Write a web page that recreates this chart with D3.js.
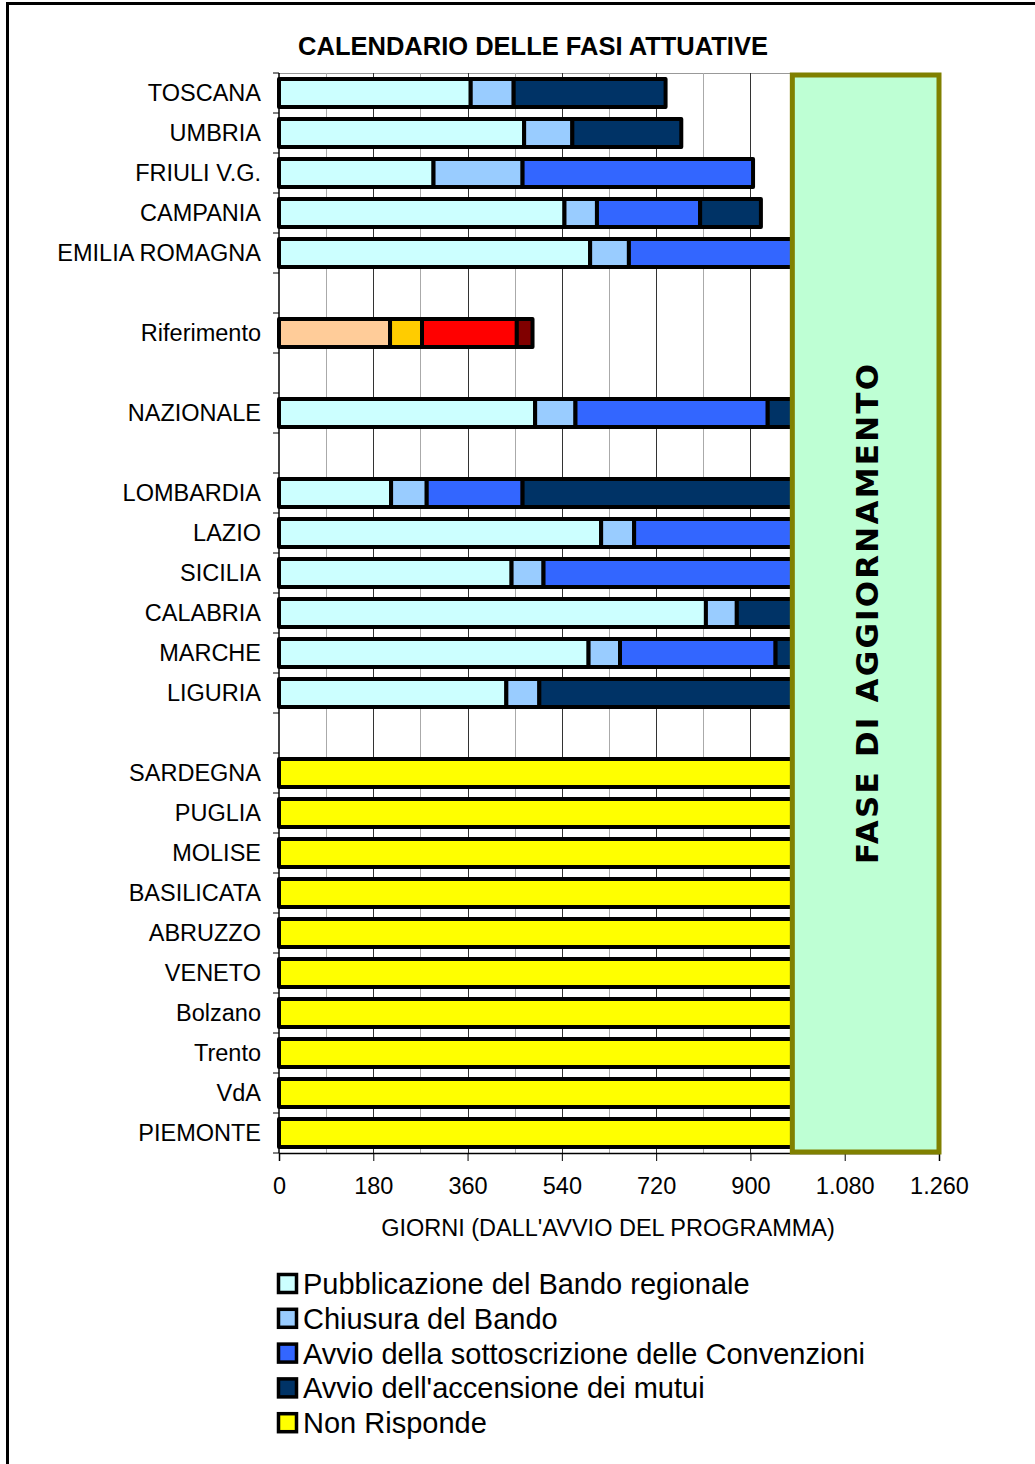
<!DOCTYPE html>
<html>
<head>
<meta charset="utf-8">
<script src="https://cdn.jsdelivr.net/npm/d3@7"></script>
<style>
  body { margin: 0; background: #fff; }
  svg { display: block; font-family: "Liberation Sans", Arial, sans-serif; }
</style>
</head>
<body>
<div class="container"></div>
<script>
// rows from top to bottom ("" = empty slot)
const categories = ["TOSCANA", "UMBRIA", "FRIULI V.G.", "CAMPANIA", "EMILIA ROMAGNA", "",
  "Riferimento", "", "NAZIONALE", "",
  "LOMBARDIA", "LAZIO", "SICILIA", "CALABRIA", "MARCHE", "LIGURIA", "",
  "SARDEGNA", "PUGLIA", "MOLISE", "BASILICATA", "ABRUZZO", "VENETO", "Bolzano", "Trento", "VdA", "PIEMONTE"];

// days spent in each phase
const pubblicazione = [366, 468, 295, 545, 594, 0, 212, 0, 489, 0, 214, 615, 444, 815, 591, 434, 0, 0, 0, 0, 0, 0, 0, 0, 0, 0, 0];
const chiusura      = [82, 92, 170, 62, 74, 0, 61, 0, 77, 0, 68, 63, 61, 59, 60, 63, 0, 0, 0, 0, 0, 0, 0, 0, 0, 0, 0];
const convenzioni   = [0, 0, 440, 197, 592, 0, 181, 0, 367, 0, 183, 582, 755, 0, 297, 0, 0, 0, 0, 0, 0, 0, 0, 0, 0, 0, 0];
const mutui         = [290, 208, 0, 116, 0, 0, 30, 0, 327, 0, 795, 0, 0, 386, 312, 763, 0, 0, 0, 0, 0, 0, 0, 0, 0, 0, 0];
const nonRisponde   = [0, 0, 0, 0, 0, 0, 0, 0, 0, 0, 0, 0, 0, 0, 0, 0, 0, 1260, 1260, 1260, 1260, 1260, 1260, 1260, 1260, 1260, 1260];

const keys = ["pubblicazione", "chiusura", "convenzioni", "mutui", "nonRisponde"];
const legendLabels = ["Pubblicazione del Bando regionale", "Chiusura del Bando",
  "Avvio della sottoscrizione delle Convenzioni", "Avvio dell'accensione dei mutui", "Non Risponde"];
const colors = ["#CCFFFF", "#99CCFF", "#3366FF", "#003366", "#FFFF00"];
const refColors = ["#FFCC99", "#FFCC00", "#FF0000", "#800000", "#FFFF00"];

const xTicks = [0, 180, 360, 540, 720, 900, 1080, 1260];
const gridTicks = [90, 180, 270, 360, 450, 540, 630, 720, 810, 900, 990, 1080, 1170, 1260];
const updateFrom = 980; // start of "fase di aggiornamento" box

const width = 1035;
const height = 1464;
const margin = { top: 73, left: 279 };
const innerWidth = 660;
const innerHeight = 1080;

const table = categories.map((c, i) => ({
  idx: i, name: c,
  pubblicazione: pubblicazione[i], chiusura: chiusura[i], convenzioni: convenzioni[i],
  mutui: mutui[i], nonRisponde: nonRisponde[i]
}));

const svg = d3.select(".container").append("svg")
  .attr("width", width).attr("height", height);

// page frame
svg.append("line").attr("x1", 6).attr("x2", width).attr("y1", 3.5).attr("y2", 3.5)
  .attr("stroke", "#000").attr("stroke-width", 3);
svg.append("line").attr("x1", 7.5).attr("x2", 7.5).attr("y1", 2).attr("y2", height)
  .attr("stroke", "#000").attr("stroke-width", 3);

svg.append("text")
  .attr("x", 533).attr("y", 55)
  .attr("text-anchor", "middle")
  .style("font-weight", "bold").style("font-size", "25.5px")
  .text("CALENDARIO DELLE FASI ATTUATIVE");

const g = svg.append("g").attr("transform", `translate(${margin.left},${margin.top})`);

const xScale = d3.scaleLinear().domain([0, 1260]).range([0, innerWidth]);
const yScale = d3.scaleBand().domain(d3.range(categories.length))
  .range([0, innerHeight]).paddingInner(0.3).paddingOuter(0.15);

// grid
g.append("line").attr("x1", 0).attr("x2", innerWidth).attr("y1", 0.5).attr("y2", 0.5)
  .attr("stroke", "#999");
g.selectAll(".grid").data(gridTicks).enter().append("line")
  .attr("class", "grid")
  .attr("x1", (d) => Math.round(xScale(d)) + 0.5).attr("x2", (d) => Math.round(xScale(d)) + 0.5)
  .attr("y1", 0).attr("y2", innerHeight)
  .attr("stroke", (d) => (d % 180 === 0 ? "#333" : "#aaa"));

// bars
const stacked = d3.stack().keys(keys)(table);
stacked.forEach((series, k) => {
  g.append("g").selectAll("rect")
    .data(series.filter((d) => d[1] - d[0] > 0))
    .enter().append("rect")
    .attr("x", (d) => xScale(d[0]))
    .attr("y", (d) => yScale(d.data.idx))
    .attr("width", (d) => xScale(d[1]) - xScale(d[0]))
    .attr("height", yScale.bandwidth())
    .attr("fill", (d) => (d.data.name === "Riferimento" ? refColors[k] : colors[k]))
    .attr("stroke", "#000").attr("stroke-width", 4)
    .attr("stroke-linejoin", "round");
});

// axes
g.append("line").attr("x1", 0).attr("x2", 0).attr("y1", 0).attr("y2", innerHeight)
  .attr("stroke", "#000").attr("stroke-width", 1.5);
g.selectAll(".ytick").data(d3.range(categories.length + 1)).enter().append("line")
  .attr("x1", -6).attr("x2", 0)
  .attr("y1", (d) => d * yScale.step()).attr("y2", (d) => d * yScale.step())
  .attr("stroke", "#000");

g.selectAll(".ylabel").data(table.filter((d) => d.name !== "")).enter().append("text")
  .attr("x", -18)
  .attr("y", (d) => yScale(d.idx) + yScale.bandwidth() / 2 + 8)
  .attr("text-anchor", "end")
  .style("font-size", "23.5px")
  .text((d) => d.name);

const fmt = (d) => d3.format(",")(d).replace(/,/g, ".");
const xAxis = d3.axisBottom(xScale).tickValues(xTicks).tickSize(8).tickPadding(16).tickFormat(fmt);
g.append("g").attr("transform", `translate(0,${innerHeight})`).call(xAxis)
  .call((a) => a.selectAll("text").style("font-size", "23.5px").attr("fill", "#000"))
  .call((a) => a.select(".domain").attr("stroke-width", 1.5));

g.append("text")
  .attr("x", 329).attr("y", 1163)
  .attr("text-anchor", "middle")
  .style("font-size", "23.5px")
  .text("GIORNI (DALL'AVVIO DEL PROGRAMMA)");

// update box
g.append("rect")
  .attr("x", xScale(updateFrom)).attr("y", 2)
  .attr("width", xScale(1260) - xScale(updateFrom)).attr("height", innerHeight - 3)
  .attr("fill", "#BEFFD4").attr("stroke", "#808000").attr("stroke-width", 5);
g.append("text")
  .attr("transform", `translate(${(xScale(updateFrom) + xScale(1260)) / 2 + 12},${541}) rotate(-90)`)
  .attr("text-anchor", "middle")
  .attr("textLength", 500).attr("lengthAdjust", "spacing")
  .style("font-family", "'DejaVu Sans', sans-serif")
  .style("font-weight", "bold").style("font-size", "31px")
  .text("FASE DI AGGIORNAMENTO");

// legend
const legend = svg.append("g").attr("transform", "translate(277,1284)");
const items = legend.selectAll("g").data(legendLabels).enter().append("g")
  .attr("transform", (d, i) => `translate(0,${i * 34.8})`);
items.append("rect")
  .attr("x", 1.5).attr("y", -9.5).attr("width", 18).attr("height", 18)
  .attr("fill", (d, i) => colors[i]).attr("stroke", "#000").attr("stroke-width", 3.5);
items.append("text")
  .attr("x", 26).attr("y", 10)
  .style("font-size", "29px")
  .text((d) => d);
</script>
</body>
</html>
